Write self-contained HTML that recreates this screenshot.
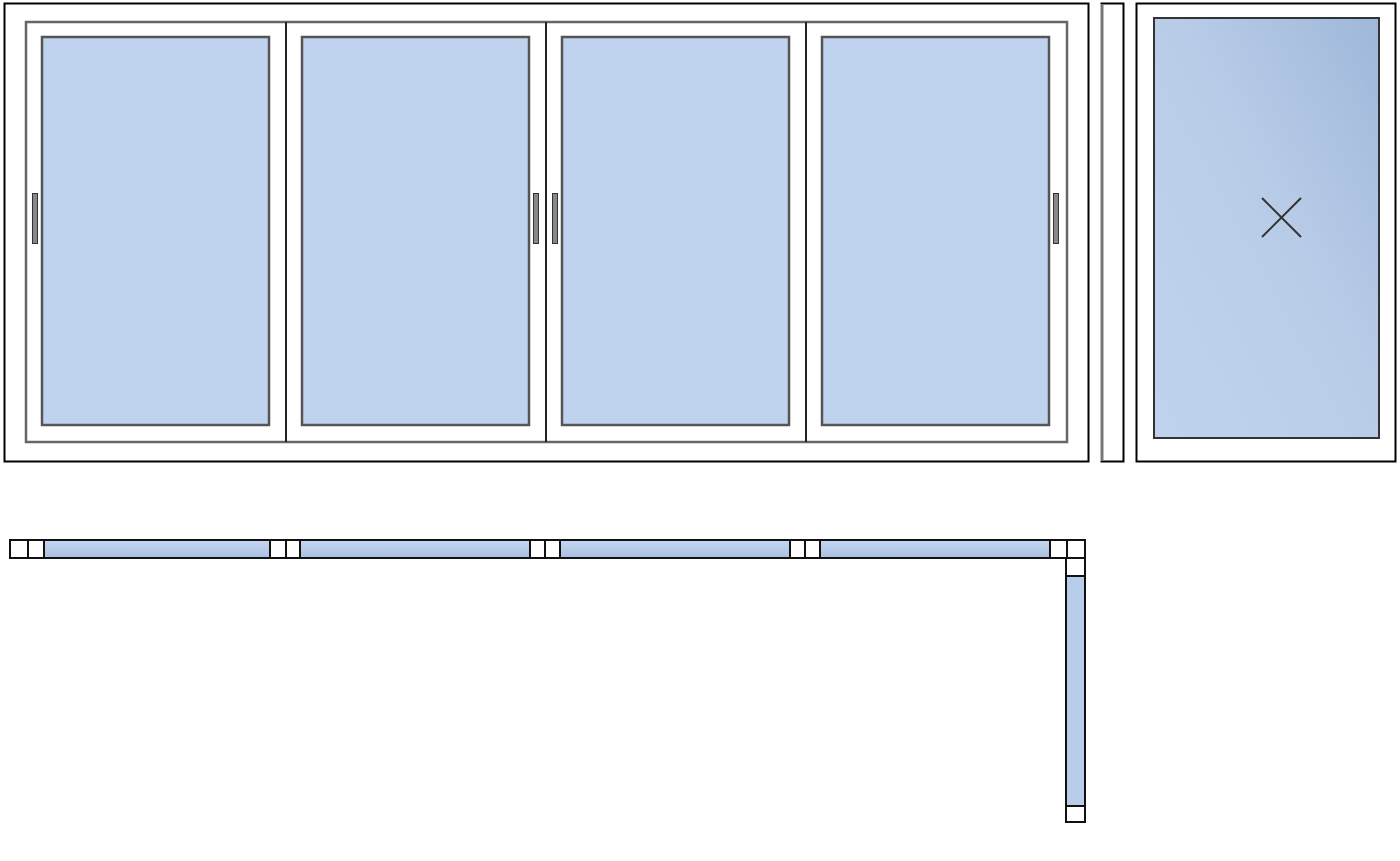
<!DOCTYPE html>
<html><head><meta charset="utf-8"><style>html,body{margin:0;padding:0;background:#fff}svg{display:block}</style></head>
<body>
<svg width="1400" height="861" viewBox="0 0 1400 861" xmlns="http://www.w3.org/2000/svg">
<defs>
<linearGradient id="g" x1="0" y1="1" x2="1" y2="0">
<stop offset="0" stop-color="#c0d3ee"/><stop offset="0.55" stop-color="#b8cce8"/><stop offset="1" stop-color="#9fb8d9"/>
</linearGradient>
<linearGradient id="h" x1="0" y1="0" x2="0" y2="1">
<stop offset="0" stop-color="#c6d7f0"/><stop offset="1" stop-color="#a9c0e2"/>
</linearGradient>
</defs>
<rect x="4.5" y="3.5" width="1084" height="458" fill="#fff" stroke="#000" stroke-width="2"/>
<rect x="26" y="22" width="1041" height="420" fill="#fff" stroke="#666" stroke-width="2.5"/>
<g stroke="#222" stroke-width="2"><line x1="286" y1="22" x2="286" y2="442"/><line x1="546" y1="22" x2="546" y2="442"/><line x1="806" y1="22" x2="806" y2="442"/></g>
<g fill="#c0d3ee" stroke="#555" stroke-width="2.5">
<rect x="42" y="37" width="227" height="388"/><rect x="302" y="37" width="227" height="388"/>
<rect x="562" y="37" width="227" height="388"/><rect x="822" y="37" width="227" height="388"/>
</g>
<g fill="#888" stroke="#333" stroke-width="1">
<rect x="32.5" y="193.5" width="5" height="50"/><rect x="533.5" y="193.5" width="5" height="50"/>
<rect x="552.5" y="193.5" width="5" height="50"/><rect x="1053.5" y="193.5" width="5" height="50"/>
</g>
<rect x="1101.5" y="3.5" width="22" height="458" fill="#fff" stroke="#000" stroke-width="2"/>
<line x1="1102" y1="4" x2="1102" y2="461" stroke="#777" stroke-width="3"/>
<rect x="1136.5" y="3.5" width="259" height="458" fill="#fff" stroke="#000" stroke-width="2"/>
<rect x="1154" y="18" width="225" height="420" fill="url(#g)" stroke="#333" stroke-width="2"/>
<g stroke="#333" stroke-width="2"><line x1="1262" y1="198" x2="1301" y2="237"/><line x1="1301" y1="198" x2="1262" y2="237"/></g>
<g stroke="#111" stroke-width="2">
<rect x="10" y="540" width="1075" height="18" fill="#fff"/>
<rect x="44" y="540" width="226" height="18" fill="url(#h)"/>
<rect x="300" y="540" width="230" height="18" fill="url(#h)"/>
<rect x="560" y="540" width="230" height="18" fill="url(#h)"/>
<rect x="820" y="540" width="230" height="18" fill="url(#h)"/>
<line x1="28" y1="540" x2="28" y2="558"/><line x1="286" y1="540" x2="286" y2="558"/>
<line x1="545" y1="540" x2="545" y2="558"/><line x1="805" y1="540" x2="805" y2="558"/>
<line x1="1067" y1="540" x2="1067" y2="558"/>
<rect x="1066" y="558" width="19" height="264" fill="#fff"/>
<rect x="1066" y="576" width="19" height="230" fill="#b8cde9"/>
</g>
</svg>
</body></html>
